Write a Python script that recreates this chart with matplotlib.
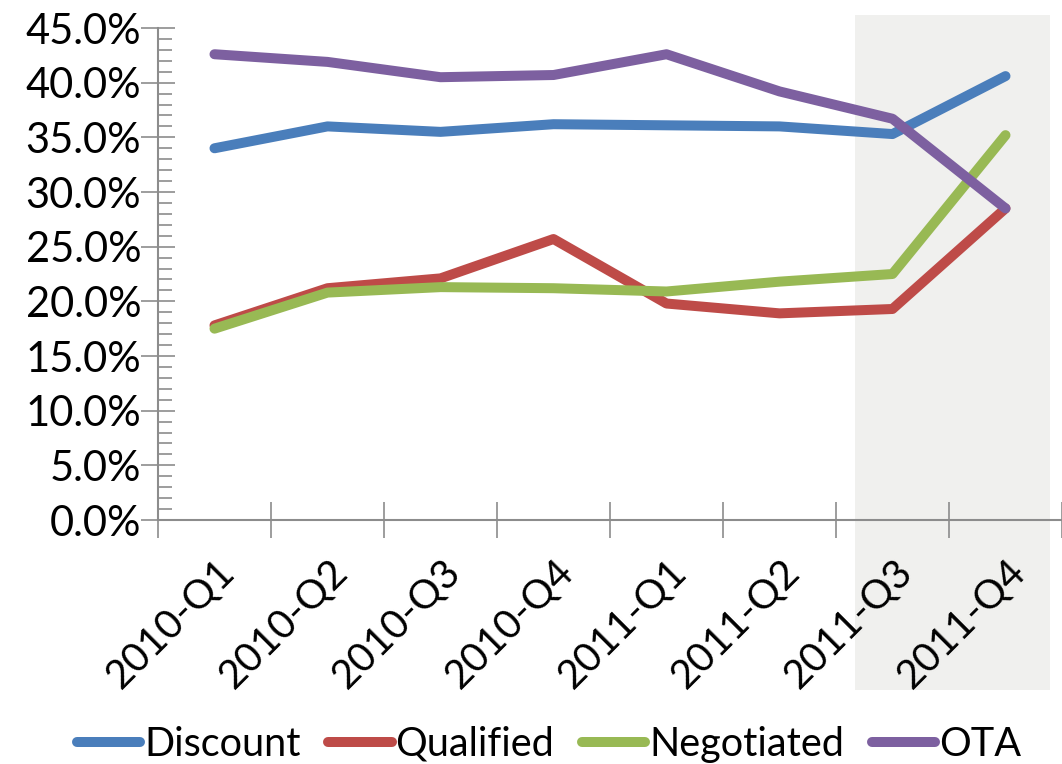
import matplotlib.pyplot as plt
from matplotlib.patches import Rectangle
from matplotlib.ticker import FuncFormatter, MultipleLocator
import numpy as np

# quarters and shares (percent)
quarters = ["2010-Q1", "2010-Q2", "2010-Q3", "2010-Q4",
            "2011-Q1", "2011-Q2", "2011-Q3", "2011-Q4"]
discount = [34.0, 36.0, 35.5, 36.2, 36.1, 36.0, 35.3, 40.6]
qualified = [17.8, 21.2, 22.1, 25.7, 19.8, 18.9, 19.3, 28.5]
negotiated = [17.5, 20.8, 21.3, 21.2, 20.9, 21.8, 22.5, 35.2]
ota = [42.6, 41.9, 40.5, 40.7, 42.6, 39.2, 36.7, 28.5]

plt.rcParams['font.family'] = ['Lato', 'DejaVu Sans']

fig = plt.figure(figsize=(10.62, 7.64), dpi=100)
ax = fig.add_axes([158 / 1062, 1 - 520 / 764, 1 - 158 / 1062, (520 - 28) / 764])
ax.patch.set_visible(False)

# grey band behind the last quarters
fig.patches.append(Rectangle((855 / 1062, 1 - 690 / 764), (1050 - 855) / 1062,
                             (690 - 15) / 764, transform=fig.transFigure,
                             facecolor='#F0F0EE', edgecolor='none', zorder=-1))

x = np.arange(len(quarters))
series = [("Discount", discount, '#4A7EBB'),
          ("Qualified", qualified, '#BE4B48'),
          ("Negotiated", negotiated, '#98B954'),
          ("OTA", ota, '#7D60A0')]
for name, vals, col in series:
    ax.plot(x, vals, color=col, lw=7.2, label=name, solid_capstyle='round',
            solid_joinstyle='round')

ax.set_xlim(-0.5, (1062 - 158) / 114 - 0.5)
ax.set_ylim(0, 45)
ax.yaxis.set_major_locator(MultipleLocator(5))
ax.yaxis.set_minor_locator(MultipleLocator(1))
ax.yaxis.set_major_formatter(FuncFormatter(lambda v, p: f"{v:.1f}%"))

ax.set_xticks(x)
ax.set_xticklabels(quarters, rotation=45, ha='right', va='top',
                   rotation_mode='anchor')
ax.set_xticks(np.arange(-0.5, len(quarters), 1), minor=True)
ax.tick_params(axis='x', which='major', length=0, pad=24, labelsize=29)
ax.tick_params(axis='x', which='minor', direction='inout', length=26,
               width=1.2, color='#8C8C8C')
ax.tick_params(axis='y', which='major', direction='inout', length=24,
               width=1.2, color='#8C8C8C', labelsize=30, pad=0)
ax.tick_params(axis='y', which='minor', direction='in', length=10,
               width=1.2, color='#8C8C8C')

for s in ['top', 'right']:
    ax.spines[s].set_visible(False)
for s in ['left', 'bottom']:
    ax.spines[s].set_color('#8C8C8C')
    ax.spines[s].set_linewidth(1.5)

fig.legend(loc='lower center', bbox_to_anchor=(0.517, -0.045), ncol=4,
           frameon=False, fontsize=28.5, handlelength=1.6, handletextpad=0.1,
           columnspacing=0.7)

fig.savefig('out.png', dpi=100)
